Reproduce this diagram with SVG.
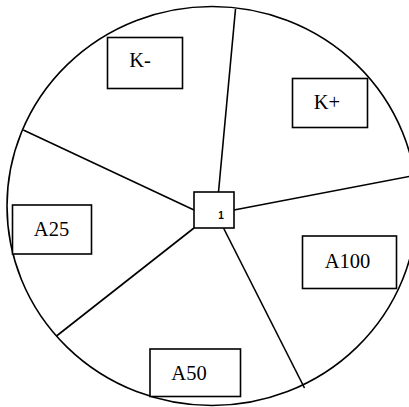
<svg xmlns="http://www.w3.org/2000/svg" width="409" height="407" viewBox="0 0 409 407">
  <style>
    .edge { fill: none; stroke: #000; stroke-width: 1.6; stroke-linecap: butt; }
    .box { fill: #fff; stroke: #000; stroke-width: 1.6; }
    .lbl { font-family: "Liberation Serif", "Times New Roman", serif; font-size: 20.5px; fill: #000; text-anchor: middle; }
    .hub { font-family: "Liberation Sans", Arial, sans-serif; font-size: 10px; font-weight: bold; fill: #000; text-anchor: middle; }
  </style>
  <rect width="409" height="407" fill="#fff"/>

  <!-- outer boundary -->
  <ellipse id="rim" cx="212" cy="206" rx="205" ry="199.5" fill="none" stroke="#000" stroke-width="1.6"/>

  <!-- spokes from the hub to the rim -->
  <g id="connectors">
    <line class="edge" x1="218.5" y1="192" x2="235.5" y2="9"/>
    <line class="edge" x1="234" y1="210" x2="414" y2="175.5"/>
    <line class="edge" x1="194" y1="210" x2="23.3" y2="130"/>
    <line class="edge" x1="194" y1="228" x2="56.5" y2="336"/>
    <line class="edge" x1="223.5" y1="228" x2="304.5" y2="388"/>
  </g>

  <g id="hub">
    <rect class="box" x="194" y="192" width="40" height="36"/>
    <text class="hub" x="221" y="219">1</text>
  </g>

  <g id="k-minus">
    <rect class="box" x="107.5" y="37.5" width="75" height="51"/>
    <text class="lbl" x="140" y="67">K-</text>
  </g>

  <g id="k-plus">
    <rect class="box" x="292.5" y="78.5" width="75" height="49"/>
    <text class="lbl" x="327" y="109">K+</text>
  </g>

  <g id="a25">
    <rect class="box" x="12.5" y="205" width="79" height="49"/>
    <text class="lbl" x="51.5" y="236">A25</text>
  </g>

  <g id="a100">
    <rect class="box" x="302.5" y="236" width="94" height="52.5"/>
    <text class="lbl" x="347.5" y="268">A100</text>
  </g>

  <g id="a50">
    <rect class="box" x="150" y="349" width="90.5" height="47.5"/>
    <text class="lbl" x="189" y="379.5">A50</text>
  </g>
</svg>
